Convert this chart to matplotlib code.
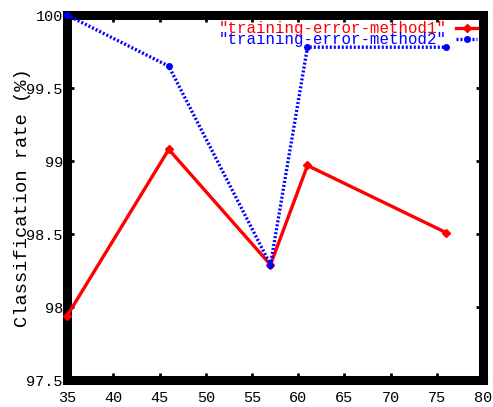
import matplotlib
matplotlib.use('Agg')
import matplotlib.pyplot as plt
import numpy as np

x_vals = [35, 46, 57, 61, 76]
method1 = [97.94, 99.08, 98.29, 98.97, 98.51]
method2 = [100.0, 99.65, 98.29, 99.78, 99.78]

xticks = [35, 40, 45, 50, 55, 60, 65, 70, 75, 80]
yticks = [97.5, 98, 98.5, 99, 99.5, 100]
ytick_labels = ['97.5', '98', '98.5', '99', '99.5', '100']

plt.rcParams['font.family'] = ['Liberation Mono', 'DejaVu Sans Mono']

fig = plt.figure(figsize=(4.93, 4.07), dpi=100)
ax = fig.add_axes([0.136, 0.066, 0.844, 0.897])

ax.plot(x_vals, method1, color='#ff0000', lw=2.4, marker='D', ms=4,
        label='"training-error-method1"', clip_on=False, zorder=3)
ax.plot(x_vals, method2, color='#0000ff', lw=2.4, ls=(0, (0.6, 0.6)), marker='o', ms=4,
        label='"training-error-method2"', clip_on=False, zorder=3)

ax.set_xlim(35, 80)
ax.set_ylim(97.5, 100)
ax.set_xticks(xticks)
ax.set_yticks(yticks)
ax.set_yticklabels(ytick_labels)
ax.tick_params(direction='in', length=5, width=2, labelsize=11, top=True, right=True)
ax.tick_params(axis='x', pad=8)
ax.tick_params(axis='y', pad=3)
ax.set_ylabel('Classification rate (%)', fontsize=13.5, labelpad=-3)

for s in ax.spines.values():
    s.set_linewidth(6.5)

leg = ax.legend(loc='upper right', frameon=False, fontsize=11.3, markerfirst=False,
                handlelength=1.3, handletextpad=0.6, labelspacing=-0.25,
                borderaxespad=0.0, labelcolor='linecolor')

fig.savefig('out.png', dpi=100)
